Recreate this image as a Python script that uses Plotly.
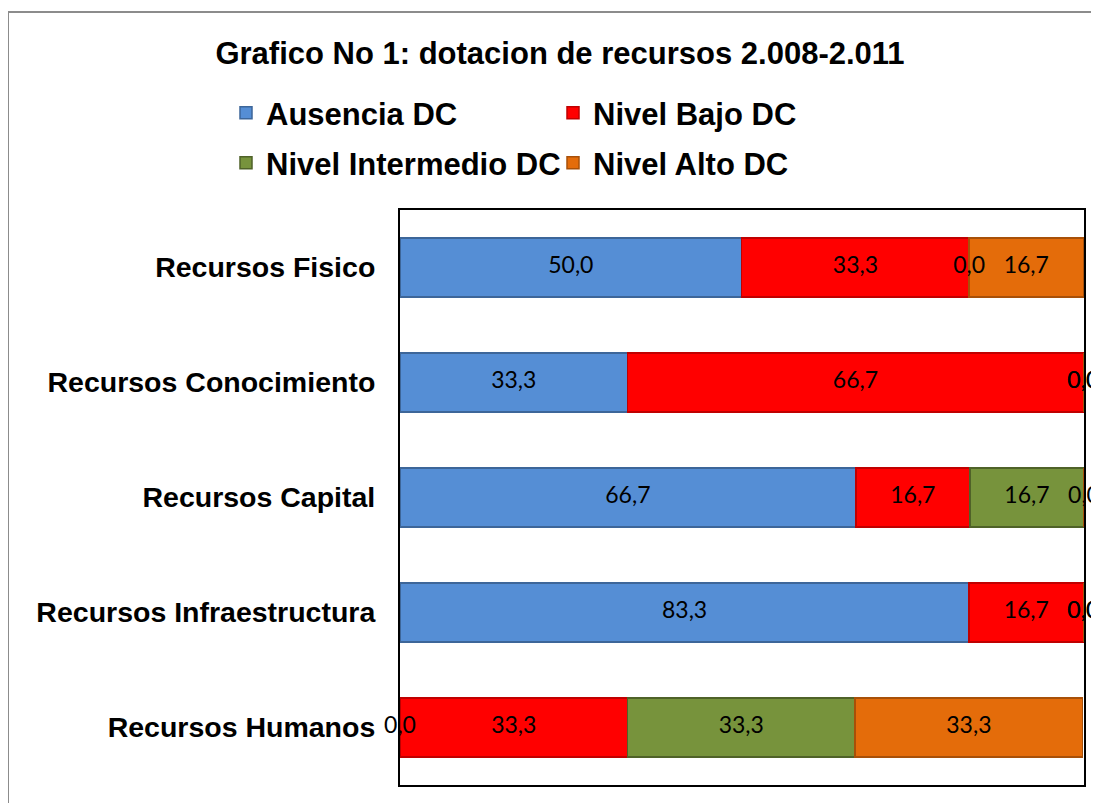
import plotly.graph_objects as go

categories = ["Recursos Fisico", "Recursos Conocimiento", "Recursos Capital",
              "Recursos Infraestructura", "Recursos Humanos"]
series_names = ["Ausencia DC", "Nivel Bajo DC", "Nivel Intermedio DC", "Nivel Alto DC"]
ausencia = [50.0, 33.3, 66.7, 83.3, 0.0]
bajo = [33.3, 66.7, 16.7, 16.7, 33.3]
intermedio = [0.0, 0.0, 16.7, 0.0, 33.3]
alto = [16.7, 0.0, 0.0, 0.0, 33.3]
series_values = [ausencia, bajo, intermedio, alto]
title_text = "Grafico No 1: dotacion de recursos 2.008-2.011"

fill_colors = ["#558ED5", "#FF0000", "#77933C", "#E46C0A"]
line_colors = ["#3D6699", "#C00000", "#4F6228", "#A85008"]
legend_ids = ["legend", "legend", "legend2", "legend2"]

# page body has an 8px margin: figure is sized to end at the window's edge
OFF = 8
W, H = 1099 - OFF, 803 - OFF
ML, MR, MT, MB = 400 - OFF, W - (1084 - OFF), 210 - OFF, H - (785 - OFF)
PW = W - ML - MR
PH = H - MT - MB

def px_x(sx):
    return (sx - OFF - ML) / PW

def px_y(sy):
    return (H - MB - (sy - OFF)) / PH

fig = go.Figure()
for name, vals, fc, lc, lg in zip(series_names, series_values, fill_colors, line_colors, legend_ids):
    fig.add_trace(go.Bar(
        name=name, y=categories, x=vals, orientation="h",
        marker=dict(color=fc, line=dict(color=lc, width=1.5)),
        legend=lg, hoverinfo="x+name",
    ))

# data labels centred on each segment (computed from cumulative sums)
lab_x, lab_y, lab_t = [], [], []
cum = [0.0] * len(categories)
for vals in series_values:
    for i, v in enumerate(vals):
        lab_x.append(cum[i] + v / 2)
        lab_y.append(categories[i])
        lab_t.append(f"{v:.1f}".replace(".", ","))
        cum[i] += v
x_max = max(cum)
fig.add_trace(go.Scatter(
    x=lab_x, y=lab_y, text=lab_t, mode="text", textposition="middle center",
    textfont=dict(family="Lato", size=23, color="black"),
    showlegend=False, hoverinfo="skip", cliponaxis=False,
))

legend_common = dict(
    orientation="h", xanchor="left", yanchor="middle",
    font=dict(family="Liberation Sans", size=31, color="black", weight="bold"),
    entrywidth=282, entrywidthmode="pixels", bgcolor="rgba(0,0,0,0)",
    traceorder="normal", itemclick=False, itemdoubleclick=False,
)

fig.update_layout(
    width=W, height=H,
    margin=dict(l=ML, r=MR, t=MT, b=MB),
    paper_bgcolor="white", plot_bgcolor="white",
    barmode="stack", bargap=0.49,
    title=dict(text=title_text, x=(560 - OFF) / W, xanchor="center",
               y=1 - (53 - OFF) / H, yanchor="middle",
               font=dict(family="Liberation Sans", size=31, color="black", weight="bold")),
    legend=dict(x=px_x(226), y=px_y(113), **legend_common),
    legend2=dict(x=px_x(226), y=px_y(163), **legend_common),
    xaxis=dict(range=[0, x_max], showticklabels=False, showgrid=False, zeroline=False,
               showline=True, linecolor="black", linewidth=2, mirror=True, ticks=""),
    yaxis=dict(categoryorder="array", categoryarray=categories, autorange="reversed",
               showgrid=False, zeroline=False, showline=True, linecolor="black",
               linewidth=2, mirror=True, ticks="", ticklabelstandoff=17,
               tickfont=dict(family="Liberation Sans", size=28.5, color="black", weight="bold")),
    shapes=[dict(type="rect", xref="paper", yref="paper",
                 x0=px_x(8), x1=px_x(1120), y0=px_y(840), y1=px_y(12),
                 line=dict(color="#8C8C8C", width=2), fillcolor="rgba(0,0,0,0)", layer="below")],
)

fig.write_html("out.html")
